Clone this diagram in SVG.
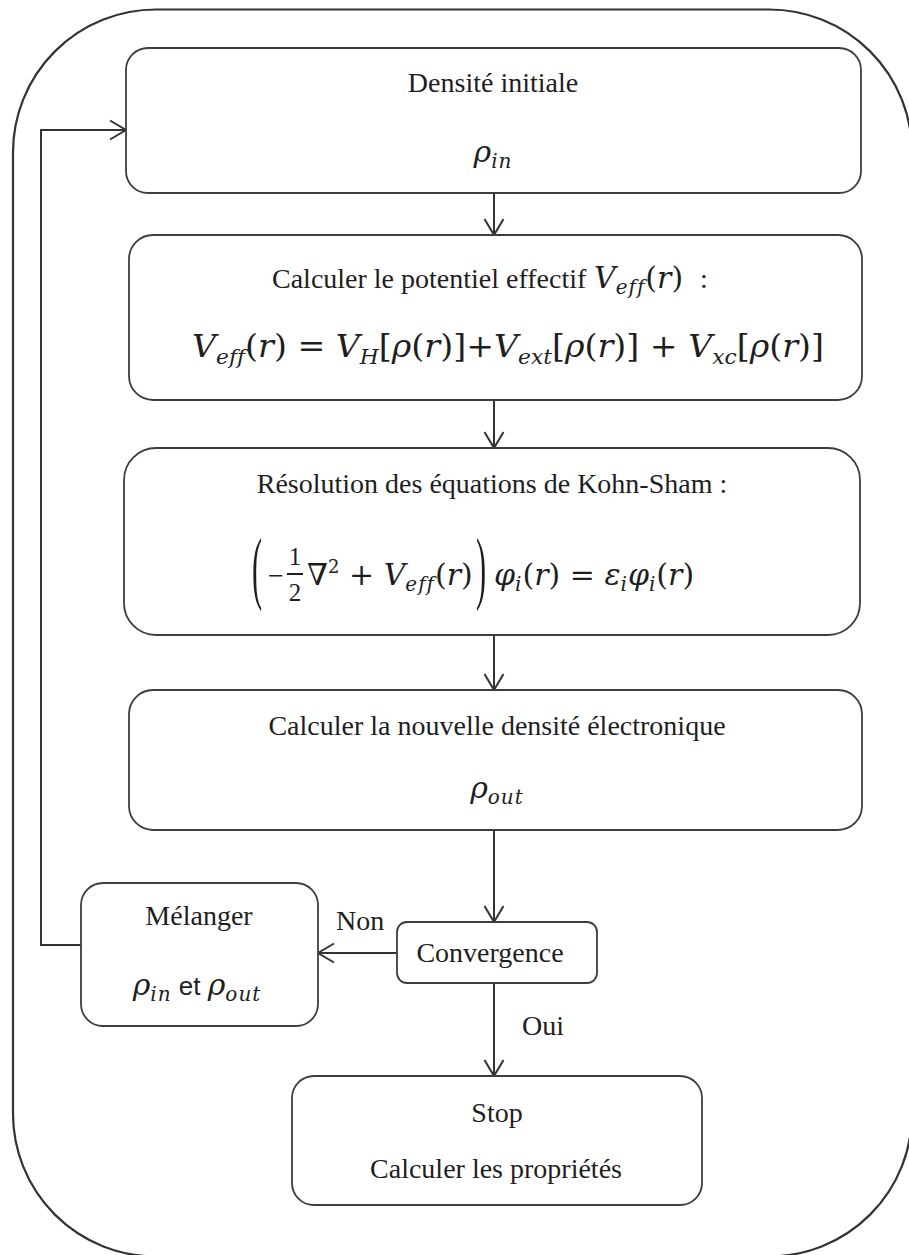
<svg xmlns="http://www.w3.org/2000/svg" width="909" height="1255" viewBox="0 0 909 1255">
<defs>
<style>
.box{fill:#fff;stroke:#3d3d3d;stroke-width:1.8}
.outer{fill:none;stroke:#333;stroke-width:2.2}
.t{font-family:"Liberation Serif","Times New Roman",serif;font-size:28px;fill:#1e1e1e}
.m{font-family:"DejaVu Serif",serif;font-style:italic;font-size:30px;fill:#1e1e1e;font-variant-ligatures:none}
.up{font-style:normal}
.s{font-size:20px;letter-spacing:1px}
.conn{fill:none;stroke:#333;stroke-width:2}
</style>
<marker id="arr" markerUnits="userSpaceOnUse" markerWidth="20" markerHeight="22" viewBox="0 0 20 22" refX="18" refY="11" orient="auto"><path d="M2,1.5 L18,11 L2,20.5" fill="none" stroke="#333" stroke-width="2"/></marker>
</defs>
<rect class="outer" x="13" y="9.5" width="899" height="1247" rx="143" ry="143"/>

<g id="connectors">
<path class="conn" d="M494,193 V235" marker-end="url(#arr)"/>
<path class="conn" d="M494,400 V448" marker-end="url(#arr)"/>
<path class="conn" d="M494,635 V690" marker-end="url(#arr)"/>
<path class="conn" d="M494,830 V922" marker-end="url(#arr)"/>
<path class="conn" d="M397,953 H318" marker-end="url(#arr)"/>
<path class="conn" d="M494,983 V1076" marker-end="url(#arr)"/>
<path class="conn" d="M81,945 H41 V130 H126" marker-end="url(#arr)"/>
<text class="t" x="336" y="930">Non</text>
<text class="t" x="522" y="1035">Oui</text>
</g>

<g id="densite">
<rect class="box" x="126" y="48" width="735" height="145" rx="22"/>
<text class="t" x="493" y="92" text-anchor="middle">Densité initiale</text>
<text class="m" x="493" y="162" text-anchor="middle">ρ<tspan class="s" dy="6">in</tspan></text>
</g>

<g id="potentiel">
<rect class="box" x="129" y="235" width="733" height="165" rx="24"/>
<text class="t" x="272" y="288">Calculer le potentiel effectif</text>
<text class="m" x="594" y="288">V<tspan class="s" dy="6">eff</tspan><tspan class="up" dy="-6">(</tspan>r<tspan class="up">)</tspan></text>
<text class="t" x="700" y="288">:</text>
<text class="m" x="192" y="357" style="font-size:32px" textLength="632" lengthAdjust="spacingAndGlyphs">V<tspan font-size="21" dy="7">eff</tspan><tspan class="up" dy="-7">(</tspan>r<tspan class="up">) = </tspan>V<tspan font-size="21" dy="7">H</tspan><tspan class="up" dy="-7">[</tspan>ρ<tspan class="up">(</tspan>r<tspan class="up">)]+</tspan>V<tspan font-size="21" dy="7">ext</tspan><tspan class="up" dy="-7">[</tspan>ρ<tspan class="up">(</tspan>r<tspan class="up">)] + </tspan>V<tspan font-size="21" dy="7">xc</tspan><tspan class="up" dy="-7">[</tspan>ρ<tspan class="up">(</tspan>r<tspan class="up">)]</tspan></text>
</g>

<g id="kohnsham">
<rect class="box" x="124" y="448" width="736" height="187" rx="32"/>
<text class="t" x="492" y="493" text-anchor="middle">Résolution des équations de Kohn-Sham :</text>
<text class="t" transform="translate(252,594) scale(0.38,1)" style="font-size:80px">(</text>
<text class="t" x="268" y="585">−</text>
<text class="t" x="295" y="565" style="font-size:25px" text-anchor="middle">1</text>
<line x1="287" y1="574" x2="303" y2="574" stroke="#1e1e1e" stroke-width="2"/>
<text class="t" x="295" y="601" style="font-size:25px" text-anchor="middle">2</text>
<text class="m" x="307" y="585"><tspan class="up">∇</tspan><tspan class="up" font-size="18" dy="-12">2</tspan><tspan class="up" dy="12"> + </tspan>V<tspan class="s" dy="6">eff</tspan><tspan class="up" dy="-6">(</tspan>r<tspan class="up">)</tspan></text>
<text class="t" transform="translate(476,594) scale(0.38,1)" style="font-size:80px">)</text>
<text class="m" x="494" y="585">φ<tspan class="s" dy="6">i</tspan><tspan class="up" dy="-6">(</tspan>r<tspan class="up">) = </tspan>ε<tspan class="s" dy="6">i</tspan><tspan dy="-6">φ</tspan><tspan class="s" dy="6">i</tspan><tspan class="up" dy="-6">(</tspan>r<tspan class="up">)</tspan></text>
</g>

<g id="nouvelle">
<rect class="box" x="129" y="690" width="733" height="140" rx="24"/>
<text class="t" x="497" y="735" text-anchor="middle">Calculer la nouvelle densité électronique</text>
<text class="m" x="497" y="798" text-anchor="middle">ρ<tspan class="s" dy="6">out</tspan></text>
</g>

<g id="convergence">
<rect class="box" x="397" y="922" width="200" height="61" rx="10"/>
<text class="t" x="490" y="962" text-anchor="middle">Convergence</text>
</g>

<g id="melanger">
<rect class="box" x="81" y="883" width="237" height="143" rx="22"/>
<text class="t" x="199" y="925" text-anchor="middle">Mélanger</text>
<text class="m" x="197" y="995" text-anchor="middle">ρ<tspan class="s" dy="6">in</tspan><tspan dy="-6" font-family="Liberation Sans, sans-serif" font-style="normal" font-size="26"> et </tspan>ρ<tspan class="s" dy="6">out</tspan></text>
</g>

<g id="stop">
<rect class="box" x="292" y="1076" width="410" height="129" rx="22"/>
<text class="t" x="497" y="1122" text-anchor="middle">Stop</text>
<text class="t" x="496" y="1178" text-anchor="middle">Calculer les propriétés</text>
</g>
</svg>
